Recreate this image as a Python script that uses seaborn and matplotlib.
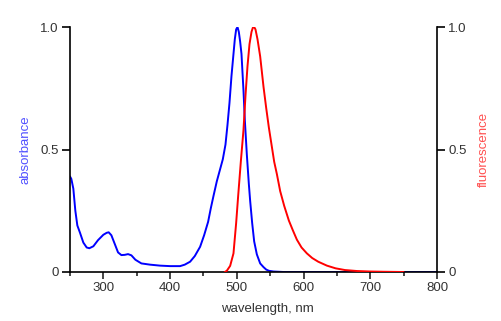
import matplotlib
matplotlib.use("Agg")
import matplotlib.pyplot as plt
import seaborn as sns
import pandas as pd
from matplotlib.ticker import MultipleLocator

sns.set_style("white")
plt.rcParams['font.family'] = ['Liberation Sans', 'DejaVu Sans']

abs_wl = [250, 252, 255, 258, 261, 265, 270, 275, 279, 285, 292, 300, 305, 308, 312, 317, 322, 327, 332, 337, 342, 348,
          357, 370, 385, 400, 415, 422, 430, 437, 445, 451, 457, 461, 465, 470, 475, 479, 483, 486, 489, 492,
          495, 497, 499, 501, 503, 505, 507, 510, 512, 515, 518, 520, 523, 526, 530, 535, 540, 544, 548, 555, 570, 600, 700, 800]
abs_val = [0.39, 0.38, 0.34, 0.25, 0.19, 0.16, 0.12, 0.10, 0.097, 0.105, 0.13, 0.152, 0.16, 0.162, 0.15, 0.115, 0.08, 0.069, 0.07, 0.073, 0.068, 0.05,
           0.035, 0.03, 0.026, 0.024, 0.024, 0.03, 0.042, 0.065, 0.103, 0.15, 0.205, 0.26, 0.31, 0.37, 0.42, 0.46, 0.52, 0.60, 0.69, 0.80,
           0.89, 0.95, 0.99, 1.0, 0.98, 0.94, 0.89, 0.74, 0.62, 0.48, 0.36, 0.29, 0.2, 0.125, 0.072, 0.035, 0.02, 0.01, 0.005, 0.002, 0.0, 0.0, 0.0, 0.0]

fl_wl = [482, 485, 490, 495, 499, 502, 506, 510, 513, 516, 519, 522, 524, 526, 528, 531, 535, 540, 544, 548,
         552, 556, 560, 565, 571, 578, 584, 590, 597, 605, 613, 622, 635, 648, 662, 680, 700, 720, 750]
fl_val = [0.0, 0.005, 0.025, 0.076, 0.2, 0.31, 0.45, 0.58, 0.72, 0.84, 0.93, 0.98, 0.997, 1.0, 0.99, 0.95, 0.88, 0.756, 0.67, 0.59,
          0.52, 0.45, 0.40, 0.33, 0.27, 0.21, 0.17, 0.132, 0.1, 0.076, 0.057, 0.042, 0.026, 0.015, 0.008, 0.004, 0.002, 0.001, 0.0]

xticks = [300, 400, 500, 600, 700, 800]
yticks = [0, 0.5, 1.0]
ytick_labels = ["0", "0.5", "1.0"]

df_abs = pd.DataFrame({"wl": abs_wl, "v": abs_val})
df_fl = pd.DataFrame({"wl": fl_wl, "v": fl_val})

fig = plt.figure(figsize=(5.01, 3.21), dpi=100)
ax = fig.add_axes([70/501, 1-272/321, (437-70)/501, (272-27)/321])
ax2 = ax.twinx()

sns.lineplot(data=df_abs, x="wl", y="v", ax=ax, color="#0000ff", linewidth=1.4)
sns.lineplot(data=df_fl, x="wl", y="v", ax=ax2, color="#ff0000", linewidth=1.4)

fs = 9.5
for a in (ax, ax2):
    a.set_xlim(250, 800)
    a.set_ylim(0, 1)
    a.set_facecolor("none")
    a.spines['top'].set_visible(False)
    for s in a.spines.values():
        s.set_linewidth(1.2)
        s.set_color("black")
    a.set_yticks(yticks)
    a.set_yticklabels(ytick_labels)
    a.tick_params(axis='y', length=6, width=1.2, labelsize=fs, colors='black', labelcolor='#333333', pad=2)
    a.grid(False)

ax.spines['right'].set_visible(False)
ax2.spines['left'].set_visible(False)
ax2.spines['bottom'].set_visible(False)

ax.set_xticks(xticks)
ax.xaxis.set_minor_locator(MultipleLocator(50))
ax.tick_params(axis='x', which='major', length=5, width=1.2, labelsize=fs, labelcolor='#333333', direction='out', pad=2, bottom=True)
ax.tick_params(axis='x', which='minor', length=3, width=1.2, direction='out', bottom=True)
ax.tick_params(axis='y', left=True)
ax2.tick_params(axis='y', right=True)

ax.set_xlabel("wavelength, nm", fontsize=fs, color='#333333')
ax.xaxis.set_label_coords((267-70)/367, -(303-272)/245)
ax.set_ylabel("absorbance", fontsize=fs, color='#5050ff')
ax.yaxis.set_label_coords(-(70-32)/367, 0.5)
ax2.set_ylabel("fluorescence", fontsize=fs, color='#ff5050')
ax2.yaxis.set_label_coords(1+(478-437)/367, 0.5)

fig.savefig("out.png", dpi=100)
